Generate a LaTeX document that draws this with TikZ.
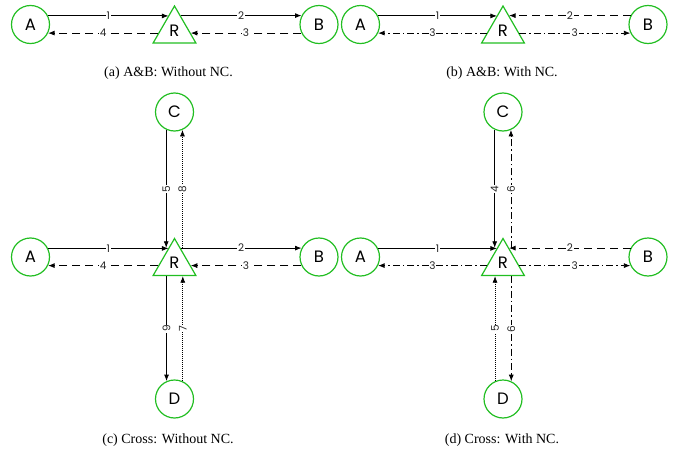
\documentclass[tikz,border=0pt]{standalone}
\usepackage{fontspec}
\setmainfont{Liberation Serif}
\newfontfamily\geofont{Poppins}
\usetikzlibrary{shapes.geometric,arrows.meta,calc}
\definecolor{nodegreen}{RGB}{34,190,34}
\tikzset{
  peer/.style={circle, draw=nodegreen, line width=1.2pt, minimum size=38pt,
    inner sep=0pt, font=\geofont\fontsize{16.5}{16.5}\selectfont},
  relay/.style={regular polygon, regular polygon sides=3, draw=nodegreen,
    line width=1.2pt, minimum size=49.4pt, inner sep=0pt,
    font=\geofont\fontsize{16.5}{16.5}\selectfont},
  link/.style={line width=0.85pt, -{Latex[length=6.5pt,width=5pt]}},
  solidlink/.style={link},
  dashedlink/.style={link, dash pattern=on 8pt off 5pt},
  dashdotlink/.style={link, dash pattern=on 7pt off 3pt on 1.5pt off 3pt},
  dottedlink/.style={link, line width=0.7pt, dash pattern=on 0.8pt off 1.2pt},
  lbl/.style={fill=white, inner sep=0.8pt, font=\geofont\fontsize{10.5}{10.5}\selectfont, text=black!85},
  vlbl/.style={lbl, rotate=90},
  caption/.style={font=\fontsize{14}{16}\selectfont}
}
\begin{document}
\begin{tikzpicture}[x=1pt,y=-1pt]
\useasboundingbox (0,0) rectangle (678,455);

% ---------- (a) A&B without network coding ----------
\node[peer]  (aA) at (30.5,24.5) {A};
\node[relay] (aR) at (174.5,30.7) {R};
\node[peer]  (aB) at (319,24.5) {B};
\coordinate (aUL) at ($(aR.corner 1)!0.27!(aR.corner 2)$);
\coordinate (aUR) at ($(aR.corner 1)!0.27!(aR.corner 3)$);
\coordinate (aLL) at ($(aR.corner 1)!0.726!(aR.corner 2)$);
\coordinate (aLR) at ($(aR.corner 1)!0.726!(aR.corner 3)$);
\draw[solidlink]  (aA.26.6) -- node[lbl]{1} (aA.26.6 -| aUL);
\draw[solidlink]  (aB.153.4 -| aUR) -- node[lbl]{2} (aB.153.4);
\draw[dashedlink] (aB.206.6) -- node[lbl]{3} (aB.206.6 -| aLR);
\draw[dashedlink] (aA.-26.6 -| aLL) -- node[lbl]{4} (aA.-26.6);
\node[caption] (capa) at (168.5,73) {(a) A\&B: Without NC.};

% ---------- (b) A&B with network coding ----------
\node[peer]  (bA) at (360.5,24.5) {A};
\node[relay] (bR) at (503,30.7) {R};
\node[peer]  (bB) at (648,24.5) {B};
\coordinate (bUL) at ($(bR.corner 1)!0.27!(bR.corner 2)$);
\coordinate (bUR) at ($(bR.corner 1)!0.27!(bR.corner 3)$);
\coordinate (bLL) at ($(bR.corner 1)!0.726!(bR.corner 2)$);
\coordinate (bLR) at ($(bR.corner 1)!0.726!(bR.corner 3)$);
\draw[solidlink]   (bA.26.6) -- node[lbl]{1} (bA.26.6 -| bUL);
\draw[dashedlink]  (bB.153.4) -- node[lbl]{2} (bB.153.4 -| bUR);
\draw[dashdotlink] (bA.-26.6 -| bLL) -- node[lbl]{3} (bA.-26.6);
\draw[dashdotlink] (bB.206.6 -| bLR) -- node[lbl]{3} (bB.206.6);
\node[caption] (capb) at (502,73) {(b) A\&B: With NC.};

% ---------- (c) Cross without network coding ----------
\node[peer]  (cA) at (30.5,257) {A};
\node[relay] (cR) at (174.5,263.2) {R};
\node[peer]  (cB) at (319,257) {B};
\node[peer]  (cC) at (174.5,112) {C};
\node[peer]  (cD) at (174.5,399) {D};
\coordinate (cUL) at ($(cR.corner 1)!0.27!(cR.corner 2)$);
\coordinate (cUR) at ($(cR.corner 1)!0.27!(cR.corner 3)$);
\coordinate (cLL) at ($(cR.corner 1)!0.726!(cR.corner 2)$);
\coordinate (cLR) at ($(cR.corner 1)!0.726!(cR.corner 3)$);
\draw[solidlink]  (cA.26.6) -- node[lbl]{1} (cA.26.6 -| cUL);
\draw[solidlink]  (cB.153.4 -| cUR) -- node[lbl]{2} (cB.153.4);
\draw[dashedlink] (cB.206.6) -- node[lbl]{3} (cB.206.6 -| cLR);
\draw[dashedlink] (cA.-26.6 -| cLL) -- node[lbl]{4} (cA.-26.6);
\draw[solidlink]  (cC.245.1) -- node[vlbl]{5} (cC.245.1 |- cUL);
\draw[dottedlink] (cC.294.9 |- cUR) -- node[vlbl]{8} (cC.294.9);
\draw[solidlink]  (cD.114.9 |- cR.corner 2) -- node[vlbl]{9} (cD.114.9);
\draw[dottedlink] (cD.65.1) -- node[vlbl]{7} (cD.65.1 |- cR.corner 3);
\node[caption] (capc) at (168,440) {(c) Cross: Without NC.};

% ---------- (d) Cross with network coding ----------
\node[peer]  (dA) at (360.5,257) {A};
\node[relay] (dR) at (503,263.2) {R};
\node[peer]  (dB) at (648,257) {B};
\node[peer]  (dC) at (503,112) {C};
\node[peer]  (dD) at (503,399) {D};
\coordinate (dUL) at ($(dR.corner 1)!0.27!(dR.corner 2)$);
\coordinate (dUR) at ($(dR.corner 1)!0.27!(dR.corner 3)$);
\coordinate (dLL) at ($(dR.corner 1)!0.726!(dR.corner 2)$);
\coordinate (dLR) at ($(dR.corner 1)!0.726!(dR.corner 3)$);
\draw[solidlink]   (dA.26.6) -- node[lbl]{1} (dA.26.6 -| dUL);
\draw[dashedlink]  (dB.153.4) -- node[lbl]{2} (dB.153.4 -| dUR);
\draw[dashdotlink] (dA.-26.6 -| dLL) -- node[lbl]{3} (dA.-26.6);
\draw[dashdotlink] (dB.206.6 -| dLR) -- node[lbl]{3} (dB.206.6);
\draw[solidlink]   (dC.245.1) -- node[vlbl]{4} (dC.245.1 |- dUL);
\draw[dashdotlink] (dC.294.9 |- dUR) -- node[vlbl]{6} (dC.294.9);
\draw[dottedlink]  (dD.114.9) -- node[vlbl]{5} (dD.114.9 |- dR.corner 2);
\draw[dashdotlink] (dD.65.1 |- dR.corner 3) -- node[vlbl]{6} (dD.65.1);
\node[caption] (capd) at (502,440) {(d) Cross: With NC.};
\end{tikzpicture}
\end{document}
